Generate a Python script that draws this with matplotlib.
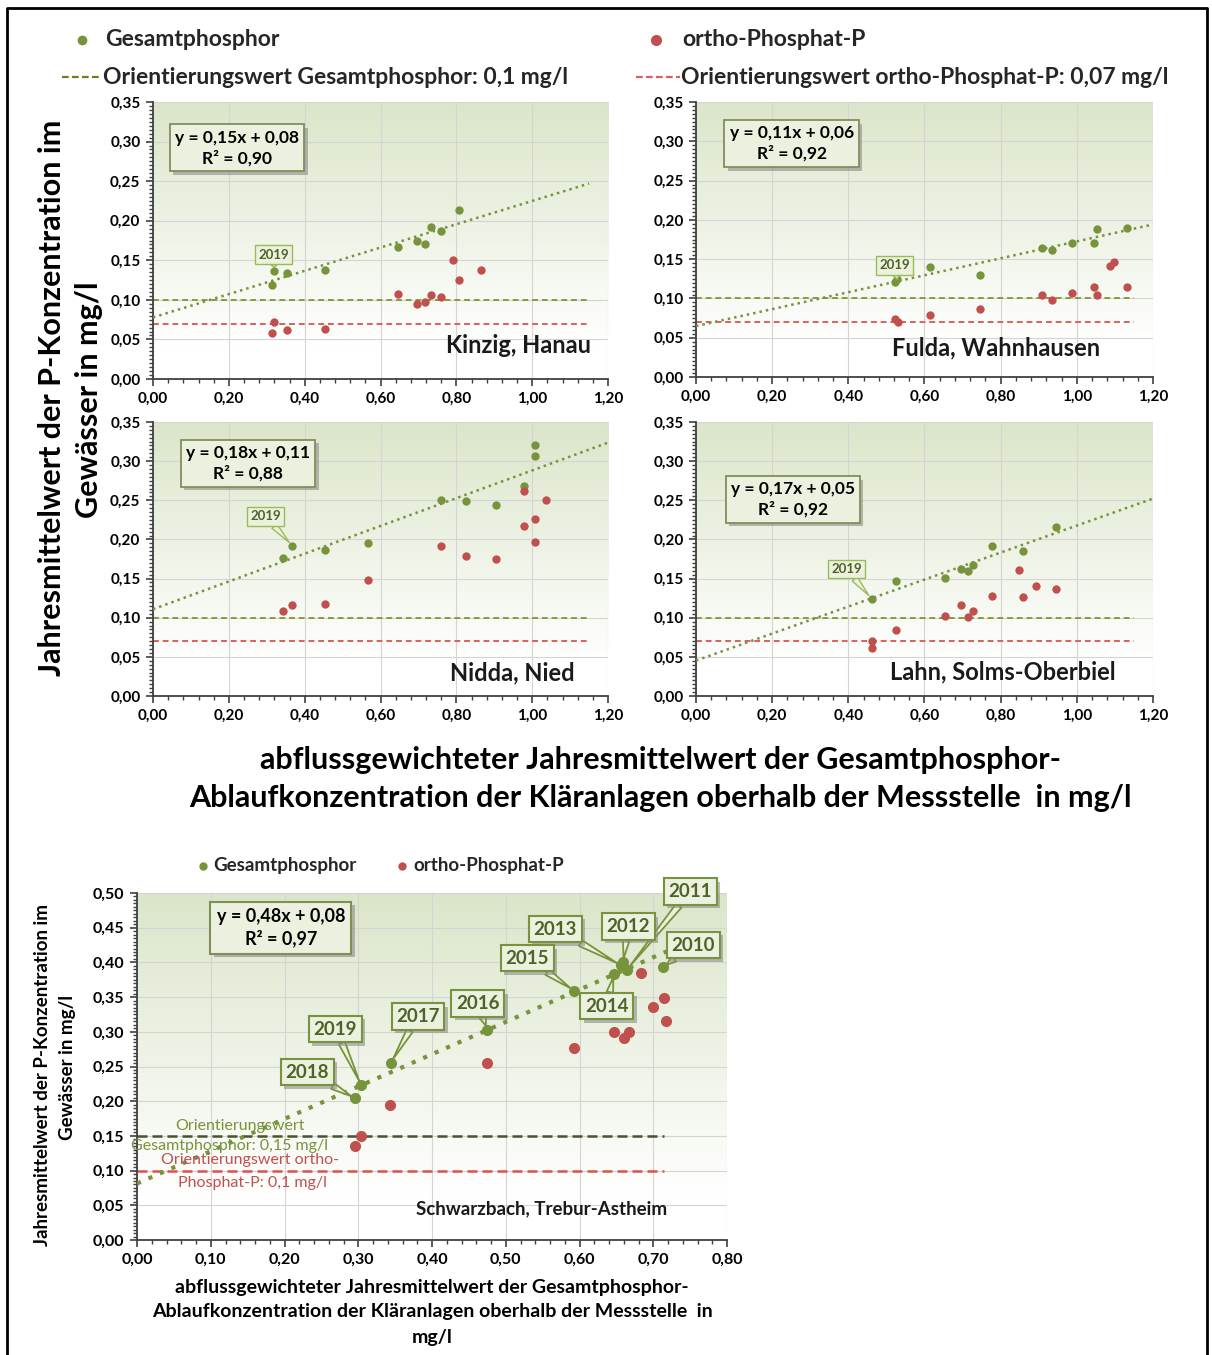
import numpy as np
import matplotlib
matplotlib.use("Agg")
import matplotlib.pyplot as plt
from matplotlib import patheffects
from matplotlib.lines import Line2D
from matplotlib.ticker import MultipleLocator, FuncFormatter

plt.rcParams['font.family'] = ['Lato', 'DejaVu Sans']

W, H = 1212, 1355
GRUEN = "#77933c"
ROT = "#c0504d"
BOX_FC = "#ebf1de"
BOX_EC = "#7f8f5a"
JAHR_FARBE = "#4f6228"

# ---- Kinzig, Hanau
kinzig_x_ges = [0.314, 0.320, 0.354, 0.454, 0.647, 0.697, 0.717, 0.732, 0.760, 0.807]
kinzig_y_ges = [0.119, 0.136, 0.134, 0.138, 0.167, 0.174, 0.171, 0.192, 0.187, 0.214]
kinzig_x_ortho = [0.314, 0.320, 0.354, 0.454, 0.647, 0.697, 0.717, 0.732, 0.760, 0.790, 0.807, 0.866]
kinzig_y_ortho = [0.058, 0.072, 0.062, 0.063, 0.107, 0.095, 0.097, 0.106, 0.103, 0.150, 0.125, 0.138]

# ---- Fulda, Wahnhausen
fulda_x_ges = [0.523, 0.528, 0.615, 0.747, 0.909, 0.934, 0.988, 1.045, 1.054, 1.131]
fulda_y_ges = [0.121, 0.1245, 0.140, 0.130, 0.164, 0.162, 0.171, 0.171, 0.188, 0.190]
fulda_x_ortho = [0.523, 0.530, 0.615, 0.747, 0.909, 0.934, 0.988, 1.045, 1.054, 1.086, 1.097, 1.131]
fulda_y_ortho = [0.074, 0.0695, 0.079, 0.0865, 0.105, 0.098, 0.107, 0.115, 0.105, 0.141, 0.146, 0.115]

# ---- Nidda, Nied
nidda_x_ges = [0.344, 0.367, 0.454, 0.566, 0.759, 0.826, 0.905, 0.978, 1.007, 1.007]
nidda_y_ges = [0.176, 0.192, 0.1865, 0.196, 0.250, 0.249, 0.244, 0.268, 0.306, 0.320]
nidda_x_ortho = [0.344, 0.367, 0.454, 0.566, 0.759, 0.826, 0.905, 0.978, 0.978, 1.007, 1.007, 1.036]
nidda_y_ortho = [0.108, 0.116, 0.1175, 0.1486, 0.192, 0.179, 0.1746, 0.262, 0.217, 0.2257, 0.197, 0.2504]

# ---- Lahn, Solms-Oberbiel
lahn_x_ges = [0.461, 0.525, 0.655, 0.695, 0.713, 0.728, 0.777, 0.858, 0.944]
lahn_y_ges = [0.1243, 0.1465, 0.1507, 0.162, 0.160, 0.167, 0.192, 0.185, 0.216]
lahn_x_ortho = [0.461, 0.461, 0.525, 0.655, 0.695, 0.713, 0.728, 0.777, 0.847, 0.858, 0.892, 0.944]
lahn_y_ortho = [0.070, 0.061, 0.084, 0.102, 0.116, 0.101, 0.109, 0.128, 0.161, 0.127, 0.140, 0.137]

# ---- Schwarzbach, Trebur-Astheim
schwarz_jahre = [2010, 2011, 2012, 2013, 2014, 2015, 2016, 2017, 2018, 2019]
schwarz_x_ges = [0.713, 0.664, 0.659, 0.656, 0.647, 0.593, 0.475, 0.344, 0.296, 0.304]
schwarz_y_ges = [0.393, 0.389, 0.400, 0.396, 0.384, 0.359, 0.303, 0.255, 0.204, 0.223]
schwarz_x_ortho = [0.296, 0.304, 0.343, 0.475, 0.593, 0.647, 0.660, 0.667, 0.684, 0.700, 0.715, 0.717]
schwarz_y_ortho = [0.136, 0.150, 0.194, 0.255, 0.277, 0.299, 0.291, 0.299, 0.385, 0.336, 0.349, 0.316]
# Positionen der Jahres-Beschriftungen
schwarz_label_x = [0.754, 0.750, 0.666, 0.567, 0.637, 0.529, 0.462, 0.381, 0.231, 0.269]
schwarz_label_y = [0.425, 0.502, 0.4515, 0.448, 0.337, 0.406, 0.341, 0.322, 0.242, 0.304]

panels = [
    dict(name="Kinzig, Hanau", box=(153, 102, 608, 379),
         xg=kinzig_x_ges, yg=kinzig_y_ges, xo=kinzig_x_ortho, yo=kinzig_y_ortho,
         eq="y = 0,15x + 0,08\nR² = 0,90", eq_pos=(0.222, 0.292), trend_end=1.15,
         jahr_xy=(0.320, 0.136), jahr_txt=(0.318, 0.157), name_pos=(1.156, 0.042)),
    dict(name="Fulda, Wahnhausen", box=(696, 102, 1153, 377),
         xg=fulda_x_ges, yg=fulda_y_ges, xo=fulda_x_ortho, yo=fulda_y_ortho,
         eq="y = 0,11x + 0,06\nR² = 0,92", eq_pos=(0.251, 0.297), trend_end=1.20,
         jahr_xy=(0.528, 0.1245), jahr_txt=(0.522, 0.142), name_pos=(1.062, 0.0375)),
    dict(name="Nidda, Nied", box=(153, 422, 608, 696),
         xg=nidda_x_ges, yg=nidda_y_ges, xo=nidda_x_ortho, yo=nidda_y_ortho,
         eq="y = 0,18x + 0,11\nR² = 0,88", eq_pos=(0.2505, 0.297), trend_end=1.20,
         jahr_xy=(0.367, 0.192), jahr_txt=(0.297, 0.2295), name_pos=(1.112, 0.030)),
    dict(name="Lahn, Solms-Oberbiel", box=(696, 422, 1153, 696),
         xg=lahn_x_ges, yg=lahn_y_ges, xo=lahn_x_ortho, yo=lahn_y_ortho,
         eq="y = 0,17x + 0,05\nR² = 0,92", eq_pos=(0.254, 0.251), trend_end=1.20,
         jahr_xy=(0.461, 0.1243), jahr_txt=(0.395, 0.162), name_pos=(1.103, 0.031)),
]


def komma(v, pos):
    return f"{v:.2f}".replace(".", ",")


def px_axes(fig, l, t, r, b):
    return fig.add_axes([l / W, 1 - b / H, (r - l) / W, (b - t) / H])


def fpx(x, y):
    return x / W, 1 - y / H


def hintergrund(ax):
    t = np.linspace(0, 1, 256)
    k = np.clip((t - 0.12) / 0.88, 0, 1)[:, None]
    oben = np.array([0.86, 0.90, 0.79])
    img = (1 - k) * np.ones(3) + k * oben
    ax.imshow(img[:, None, :], extent=[0, 1, 0, 1], transform=ax.transAxes,
              aspect="auto", origin="lower", zorder=0, interpolation="bilinear")


def achsen_stil(ax, xmax, xmaj, xmin, ymax, ymaj, ymin, fs):
    hintergrund(ax)
    ax.set_xlim(0, xmax)
    ax.set_ylim(0, ymax)
    ax.xaxis.set_major_locator(MultipleLocator(xmaj))
    ax.xaxis.set_minor_locator(MultipleLocator(xmin))
    ax.yaxis.set_major_locator(MultipleLocator(ymaj))
    ax.yaxis.set_minor_locator(MultipleLocator(ymin))
    ax.xaxis.set_major_formatter(FuncFormatter(komma))
    ax.yaxis.set_major_formatter(FuncFormatter(komma))
    ax.set_axisbelow(True)
    ax.grid(True, which="major", color="#d4d4d4", lw=0.8)
    for s in ["top", "right"]:
        ax.spines[s].set_visible(False)
    for s in ["left", "bottom"]:
        ax.spines[s].set_color("#404040")
        ax.spines[s].set_linewidth(1.3)
    ax.tick_params(which="major", direction="out", length=5, width=1.2, color="#404040",
                   labelsize=fs, pad=4)
    ax.tick_params(which="minor", direction="out", length=3, width=1.0, color="#404040")
    for lab in ax.get_xticklabels() + ax.get_yticklabels():
        lab.set_fontweight("bold")


def schatten_box(txt):
    txt.get_bbox_patch().set_path_effects(
        [patheffects.withSimplePatchShadow(offset=(2.5, -2.5), shadow_rgbFace="#8c8c8c", alpha=0.6)])


fig = plt.figure(figsize=(W / 100, H / 100), dpi=100)

for p in panels:
    ax = px_axes(fig, *p["box"])
    achsen_stil(ax, 1.20, 0.20, 0.04, 0.35, 0.05, 0.005, 11)
    ax.hlines(0.10, 0, 1.15, colors="#8a9a3a", linestyles=(0, (3, 2)), lw=1.4, zorder=2)
    ax.hlines(0.07, 0, 1.15, colors="#d9605c", linestyles=(0, (3, 2)), lw=1.4, zorder=2)
    m, c = np.polyfit(p["xg"], p["yg"], 1)
    xt = np.array([0, p["trend_end"]])
    ax.plot(xt, m * xt + c, color=GRUEN, ls=(0, (1, 1.6)), lw=1.8, zorder=3)
    ax.scatter(p["xg"], p["yg"], s=36, color=GRUEN, zorder=4, lw=0)
    ax.scatter(p["xo"], p["yo"], s=36, color=ROT, zorder=5, lw=0)
    t = ax.text(*p["eq_pos"], p["eq"], ha="center", va="center", fontsize=12.5,
                fontweight="bold", linespacing=1.3, zorder=6,
                bbox=dict(boxstyle="square,pad=0.3", fc=BOX_FC, ec=BOX_EC, lw=1.3))
    schatten_box(t)
    ax.annotate("2019", xy=p["jahr_xy"], xytext=p["jahr_txt"], ha="center", va="center",
                fontsize=9.5, fontweight="bold", color=JAHR_FARBE, zorder=7,
                bbox=dict(boxstyle="square,pad=0.25", fc=BOX_FC, ec="#9bbb59", lw=1),
                arrowprops=dict(arrowstyle="wedge,tail_width=0.5", fc=BOX_FC, ec="#9bbb59",
                                lw=1, shrinkA=0, shrinkB=3))
    ax.text(*p["name_pos"], p["name"], ha="right", va="center", fontsize=17,
            fontweight="bold", color="#1a1a1a", zorder=6)

# ---- Legende oben
fig.add_artist(Line2D(*zip(fpx(82, 40)), marker="o", ms=6, color=GRUEN, transform=fig.transFigure))
fig.text(*fpx(105, 40), "Gesamtphosphor", ha="left", va="center", fontsize=16.5, fontweight="bold",
         color="#262626")
fig.add_artist(Line2D(*zip(fpx(656, 40)), marker="o", ms=7, color=ROT, transform=fig.transFigure))
fig.text(*fpx(682, 40), "ortho-Phosphat-P", ha="left", va="center", fontsize=16.5, fontweight="bold",
         color="#262626")
fig.add_artist(Line2D(*zip(fpx(62, 77), fpx(102, 77)), color="#6b7d2a", lw=1.6, ls=(0, (3, 1.5)),
                      transform=fig.transFigure))
fig.text(*fpx(103, 77), "Orientierungswert Gesamtphosphor: 0,1 mg/l", ha="left", va="center",
         fontsize=16.5, fontweight="bold", color="#262626")
fig.add_artist(Line2D(*zip(fpx(636, 77), fpx(680, 77)), color="#d9605c", lw=1.6, ls=(0, (3, 1.5)),
                      transform=fig.transFigure))
fig.text(*fpx(681, 77), "Orientierungswert ortho-Phosphat-P: 0,07 mg/l", ha="left", va="center",
         fontsize=16.5, fontweight="bold", color="#262626")

# ---- Achsentitel oben
fig.text(*fpx(52, 398), "Jahresmittelwert der P-Konzentration im", rotation=90,
         ha="center", va="center", fontsize=22, fontweight="bold")
fig.text(*fpx(89, 400), "Gewässer in mg/l", rotation=90,
         ha="center", va="center", fontsize=22, fontweight="bold")
fig.text(*fpx(660, 760), "abflussgewichteter Jahresmittelwert der Gesamtphosphor-",
         ha="center", va="center", fontsize=22, fontweight="bold")
fig.text(*fpx(660, 798), "Ablaufkonzentration der Kläranlagen oberhalb der Messstelle  in mg/l",
         ha="center", va="center", fontsize=22, fontweight="bold")

# ---- Schwarzbach
ax5 = px_axes(fig, 137, 893, 727, 1240)
achsen_stil(ax5, 0.80, 0.10, 0.02, 0.50, 0.05, 0.005, 11.5)
ax5.hlines(0.15, 0, 0.714, colors="#4a5230", linestyles=(0, (4, 2)), lw=1.8, zorder=2)
ax5.hlines(0.10, 0, 0.714, colors="#d9534f", linestyles=(0, (4, 2)), lw=1.8, zorder=2)
m5, c5 = np.polyfit(schwarz_x_ges, schwarz_y_ges, 1)
xt5 = np.array([0, 0.72])
ax5.plot(xt5, m5 * xt5 + c5, color=GRUEN, ls=(0, (1, 2)), lw=3, zorder=3)
ax5.scatter(schwarz_x_ges, schwarz_y_ges, s=64, color=GRUEN, zorder=4, lw=0)
ax5.scatter(schwarz_x_ortho, schwarz_y_ortho, s=64, color=ROT, zorder=5, lw=0)

ax5.text(0.140, 0.164, "Orientierungswert", ha="center", va="center", fontsize=11.5, color=GRUEN, zorder=6)
ax5.text(0.125, 0.1354, "Gesamtphosphor: 0,15 mg/l", ha="center", va="center", fontsize=11.5,
         color=GRUEN, zorder=6)
ax5.text(0.153, 0.1153, "Orientierungswert ortho-", ha="center", va="center", fontsize=11.5,
         color=ROT, zorder=6)
ax5.text(0.156, 0.0826, "Phosphat-P: 0,1 mg/l", ha="center", va="center", fontsize=11.5,
         color=ROT, zorder=6)
ax5.text(0.549, 0.0447, "Schwarzbach, Trebur-Astheim", ha="center", va="center", fontsize=13.5,
         fontweight="bold", color="#1a1a1a", zorder=6)

t5 = ax5.text(0.195, 0.450, "y = 0,48x + 0,08\nR² = 0,97", ha="center", va="center", fontsize=13,
              fontweight="bold", linespacing=1.3, zorder=6,
              bbox=dict(boxstyle="square,pad=0.35", fc=BOX_FC, ec=BOX_EC, lw=1.5))
schatten_box(t5)

for j, xg, yg, lx, ly in zip(schwarz_jahre, schwarz_x_ges, schwarz_y_ges, schwarz_label_x, schwarz_label_y):
    a = ax5.annotate(str(j), xy=(xg, yg), xytext=(lx, ly), ha="center", va="center",
                     fontsize=13.5, fontweight="bold", color=JAHR_FARBE, zorder=7,
                     annotation_clip=False,
                     bbox=dict(boxstyle="square,pad=0.25", fc=BOX_FC, ec=GRUEN, lw=1.5),
                     arrowprops=dict(arrowstyle="wedge,tail_width=0.35", fc=BOX_FC, ec=GRUEN,
                                     lw=1.3, shrinkA=0, shrinkB=3))
    schatten_box(a)

# Legende unten
fig.add_artist(Line2D(*zip(fpx(203, 866)), marker="o", ms=5, color=GRUEN, transform=fig.transFigure))
fig.text(*fpx(213, 866), "Gesamtphosphor", ha="left", va="center", fontsize=13.5, fontweight="bold",
         color="#262626")
fig.add_artist(Line2D(*zip(fpx(402, 866)), marker="o", ms=5, color=ROT, transform=fig.transFigure))
fig.text(*fpx(413, 866), "ortho-Phosphat-P", ha="left", va="center", fontsize=13.5, fontweight="bold",
         color="#262626")

# Achsentitel unten
fig.text(*fpx(43, 1075), "Jahresmittelwert der P-Konzentration im", rotation=90,
         ha="center", va="center", fontsize=13.5, fontweight="bold")
fig.text(*fpx(68, 1068), "Gewässer in mg/l", rotation=90,
         ha="center", va="center", fontsize=13.5, fontweight="bold")
fig.text(*fpx(432, 1287), "abflussgewichteter Jahresmittelwert der Gesamtphosphor-",
         ha="center", va="center", fontsize=14, fontweight="bold")
fig.text(*fpx(432, 1311), "Ablaufkonzentration der Kläranlagen oberhalb der Messstelle  in",
         ha="center", va="center", fontsize=14, fontweight="bold")
fig.text(*fpx(432, 1337), "mg/l", ha="center", va="center", fontsize=14, fontweight="bold")

# Rahmen
rx0, ry0 = fpx(7, 8)
rx1, _ = fpx(1207, 8)
fig.add_artist(Line2D([rx0, rx0, rx1, rx1], [0, ry0, ry0, 0], color="black", lw=2,
                      transform=fig.transFigure))

fig.savefig("out.png", dpi=100)
